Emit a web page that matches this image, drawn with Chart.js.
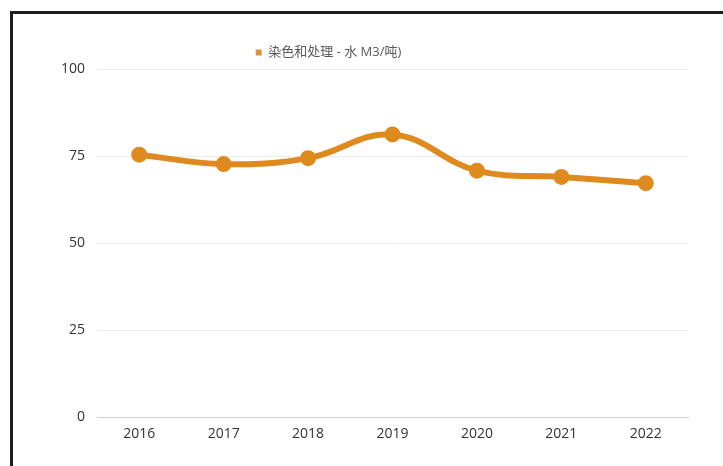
<!DOCTYPE html>
<html>
<head>
<meta charset="utf-8">
<script src="https://cdn.jsdelivr.net/npm/chart.js@4.4.1/dist/chart.umd.min.js"></script>
<style>
  html, body { margin: 0; padding: 0; background: #fff; overflow: hidden; }
  .frame {
    position: absolute; left: 10px; top: 11px; width: 800px; height: 600px;
    border-top: 3px solid #1e1e1e; border-left: 3px solid #1e1e1e;
  }
  .wrap { position: absolute; left: 13px; top: 14px; width: 710px; height: 452px; }
</style>
</head>
<body>
<div class="frame"></div>
<div class="wrap"><canvas id="waterChart"></canvas></div>
<script>
// chart data
const years = ['2016', '2017', '2018', '2019', '2020', '2021', '2022'];
const waterUse = [75.4, 72.7, 74.4, 81.2, 70.8, 69.0, 67.2];
const seriesName = '染色和处理 - 水 M3/吨)';
const yTicks = [0, 25, 50, 75, 100];

const orange = '#de8a1f';
const fontFamily = '"Open Sans", "Noto Sans CJK SC", sans-serif';

// the legend in the original sits left of centre, nudge it over
const legendShift = {
  id: 'legendShift',
  afterLayout(chart, args, opts) {
    const lg = chart.legend;
    if (!lg) return;
    lg.left += opts.dx;
    lg.right += opts.dx;
  }
};

window.addEventListener('DOMContentLoaded', () => {
  const ctx = document.getElementById('waterChart');

  new Chart(ctx, {
    type: 'line',
    data: {
      labels: years,
      datasets: [{
        label: seriesName,
        data: waterUse,
        borderColor: orange,
        backgroundColor: orange,
        borderWidth: 6,
        pointRadius: 8,
        pointBorderWidth: 0,
        pointBackgroundColor: orange,
        tension: 0.4,
        fill: false
      }]
    },
    options: {
      responsive: true,
      maintainAspectRatio: false,
      animation: false,
      layout: { padding: { top: 18, left: 36, right: 35, bottom: 24 } },
      plugins: {
        legendShift: { dx: -40 },
        tooltip: { enabled: false },
        legend: {
          position: 'top',
          labels: {
            boxWidth: 6,
            boxHeight: 6,
            padding: 14,
            color: '#595959',
            font: { family: fontFamily, size: 13 },
            generateLabels(chart) {
              const items = Chart.defaults.plugins.legend.labels.generateLabels(chart);
              items.forEach(it => { it.lineWidth = 0; it.fillStyle = '#d9943f'; });
              return items;
            }
          }
        }
      },
      scales: {
        x: {
          offset: true,
          grid: { display: false },
          border: { display: true, color: '#d0d0d0' },
          ticks: {
            color: '#333',
            padding: 0,
            font: { family: fontFamily, size: 14 }
          }
        },
        y: {
          min: 0,
          max: 100,
          afterBuildTicks(axis) {
            axis.ticks = yTicks.map(v => ({ value: v }));
          },
          grid: { color: '#ececec', drawTicks: false },
          border: { display: false },
          ticks: {
            color: '#333',
            padding: 12,
            font: { family: fontFamily, size: 14 }
          }
        }
      }
    },
    plugins: [legendShift]
  });
});
</script>
</body>
</html>
